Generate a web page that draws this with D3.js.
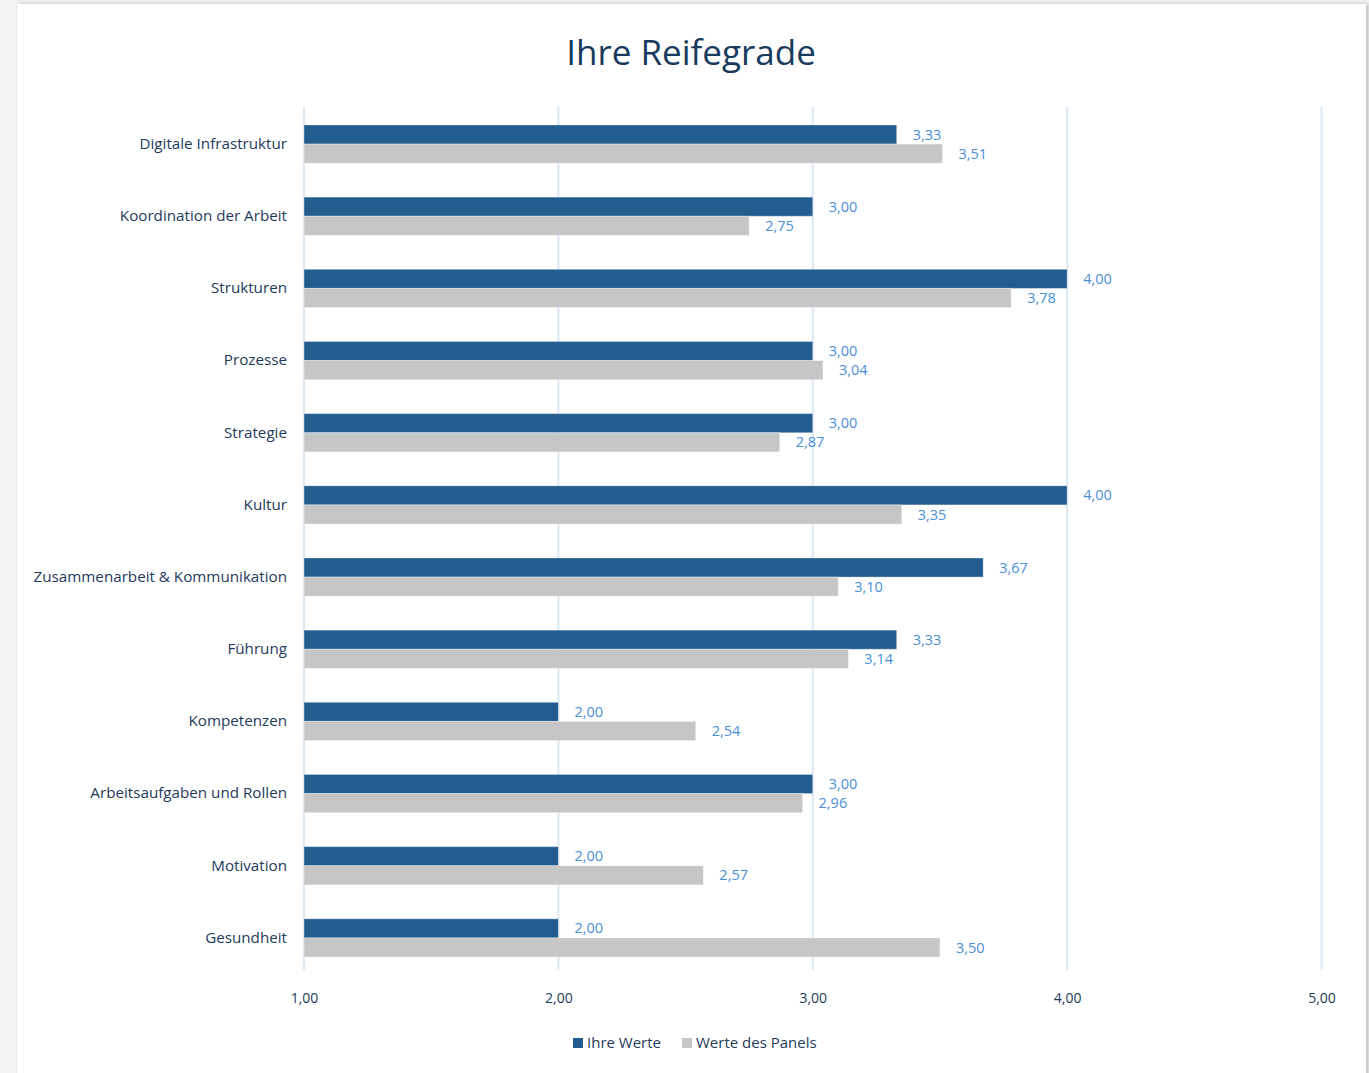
<!DOCTYPE html>
<html><head><meta charset="utf-8">
<script src="https://cdn.jsdelivr.net/npm/d3@7"></script>
<style>
html,body{margin:0;padding:0;background:#f2f2f2;}
svg{display:block;font-family:"Open Sans","Noto Sans",sans-serif;}
</style></head>
<body>
<svg id="chart" width="1369" height="1073"></svg>
<script>
const categories = ["Digitale Infrastruktur","Koordination der Arbeit","Strukturen","Prozesse","Strategie","Kultur","Zusammenarbeit & Kommunikation","Führung","Kompetenzen","Arbeitsaufgaben und Rollen","Motivation","Gesundheit"];
const ihreWerte = [3.33,3.00,4.00,3.00,3.00,4.00,3.67,3.33,2.00,3.00,2.00,2.00];
const panelWerte = [3.51,2.75,3.78,3.04,2.87,3.35,3.10,3.14,2.54,2.96,2.57,3.50];
const seriesNames = ["Ihre Werte","Werte des Panels"];
const xTicks = [1,2,3,4,5];
const title = "Ihre Reifegrade";

const colors = ["#235d8f","#c6c6c6"];
const labelColor = "#4a8fd6";
const textColor = "#1e3a5a";
const gridColor = "#dae7f5";

const svg = d3.select("#chart");
const fmt = v => d3.format(".2f")(v).replace(".", ",");

// card
svg.append("defs").append("filter").attr("id","sh").attr("x","-5%").attr("y","-5%").attr("width","110%").attr("height","110%")
  .append("feDropShadow").attr("dx",2).attr("dy",0).attr("stdDeviation",2).attr("flood-color","#000").attr("flood-opacity",0.25);
svg.append("rect").attr("x",17).attr("y",4).attr("width",1349).attr("height",1080).attr("fill","#fff").attr("filter","url(#sh)");

const L = 304, R = 1321.5, T = 107, B = 970;
const x = d3.scaleLinear().domain([1,5]).range([L,R]);
const y = d3.scaleBand().domain(categories).range([108,974]).paddingInner(0.47).paddingOuter(0.235);
const sub = d3.scaleBand().domain(seriesNames).range([0,y.bandwidth()]);

svg.append("text").attr("x",691).attr("y",65).attr("text-anchor","middle")
  .attr("font-size",35).attr("fill","#183a5c").text(title);

// grid
svg.append("g").selectAll("line").data(xTicks).join("line")
  .attr("x1",d=>x(d)).attr("x2",d=>x(d)).attr("y1",T).attr("y2",B)
  .attr("stroke",gridColor).attr("stroke-width",2);

// x axis labels
const xAxis = d3.axisBottom(x).tickValues(xTicks).tickFormat(fmt).tickSize(0).tickPadding(0);
const gx = svg.append("g").attr("transform",`translate(0,${B+23})`).call(xAxis);
gx.select(".domain").remove();
gx.selectAll("text").attr("font-size",14).attr("fill",textColor).attr("font-family","Open Sans, Noto Sans, sans-serif");

// y axis labels
const yAxis = d3.axisLeft(y).tickSize(0).tickPadding(17);
const gy = svg.append("g").attr("transform",`translate(${L},0)`).call(yAxis);
gy.select(".domain").remove();
gy.selectAll("text").attr("font-size",15.2).attr("fill",textColor).attr("font-family","Open Sans, Noto Sans, sans-serif");

const rows = categories.map((c,i)=>({c, vals:[ihreWerte[i], panelWerte[i]]}));
const gRows = svg.append("g").selectAll("g").data(rows).join("g").attr("transform",d=>`translate(0,${y(d.c)})`);
gRows.selectAll("rect").data(d=>d.vals.map((v,j)=>({v,s:seriesNames[j],j}))).join("rect")
  .attr("x",x(1)).attr("y",d=>sub(d.s)).attr("width",d=>x(d.v)-x(1)).attr("height",sub.bandwidth())
  .attr("fill",d=>colors[d.j]).attr("stroke","#ffffff").attr("stroke-opacity",0.35).attr("stroke-width",1);
gRows.selectAll("text").data(d=>d.vals.map((v,j)=>({v,s:seriesNames[j],j}))).join("text")
  .attr("x",d=>x(d.v)+16).attr("y",d=>sub(d.s)+sub.bandwidth()/2).attr("dy","0.35em")
  .attr("font-size",14.5).attr("fill",labelColor).text(d=>fmt(d.v));

// legend
const lg = svg.append("g").attr("transform","translate(573,1043)");
const items = [{n:seriesNames[0],c:colors[0],x:0},{n:seriesNames[1],c:colors[1],x:109}];
items.forEach(it=>{
  lg.append("rect").attr("x",it.x).attr("y",-5).attr("width",10).attr("height",10).attr("fill",it.c);
  lg.append("text").attr("x",it.x+14).attr("y",0).attr("dy","0.35em").attr("font-size",15).attr("fill",textColor).text(it.n);
});
</script>
</body></html>
